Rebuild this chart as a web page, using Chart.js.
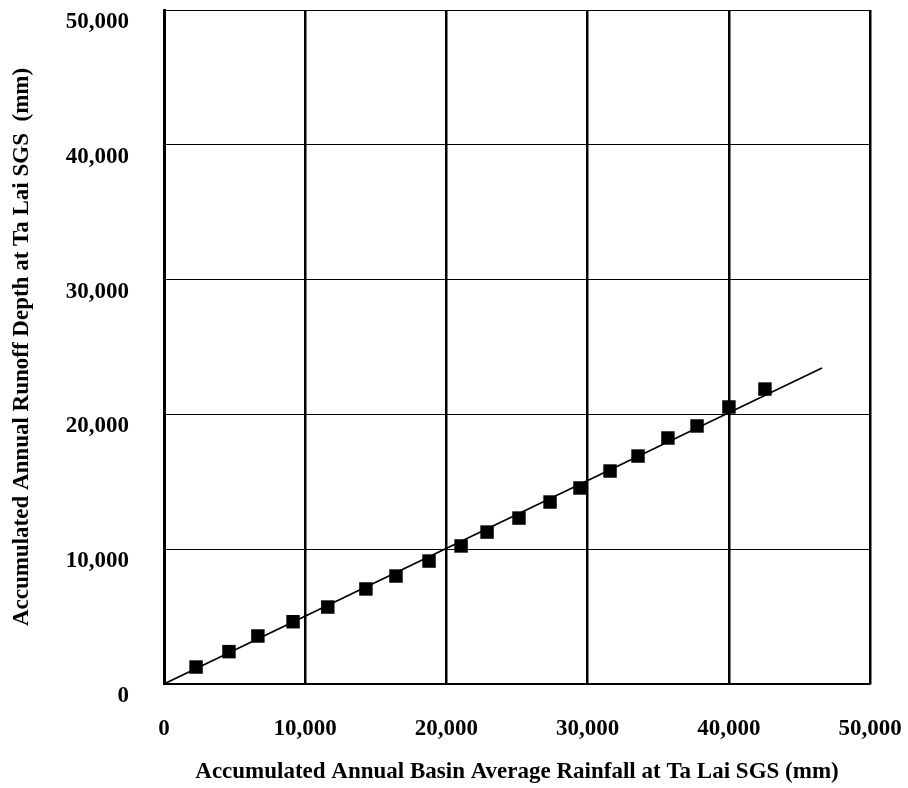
<!DOCTYPE html>
<html>
<head>
<meta charset="utf-8">
<script src="https://cdn.jsdelivr.net/npm/chart.js@4"></script>
<style>
  html, body { margin: 0; padding: 0; background: #fff; }
  #wrap { width: 908px; height: 788px; }
</style>
</head>
<body>
<div id="wrap"><canvas id="chart"></canvas></div>
<script>
// Accumulated rainfall (x) and runoff depth (y)
const rainfall = [2270, 4600, 6650, 9140, 11600, 14300, 16430, 18770, 21040, 22880,
                  25140, 27340, 29460, 31590, 33570, 35690, 37750, 40010, 42560];
const runoff = [1260, 2400, 3560, 4620, 5710, 7050, 8010, 9120, 10240, 11270,
                12310, 13500, 14540, 15800, 16910, 18250, 19140, 20550, 21880];
// fitted straight line (start / end)
const fitX = [0, 46600];
const fitY = [0, 23440];
const xTicks = [0, 10000, 20000, 30000, 40000, 50000];
const yTicks = [0, 10000, 20000, 30000, 40000, 50000];

const points = rainfall.map((x, i) => ({ x: x, y: runoff[i] }));
const fit = fitX.map((x, i) => ({ x: x, y: fitY[i] }));

const serif = 'Liberation Serif, "Times New Roman", serif';
const fmt = v => v.toLocaleString('en-US');

new Chart(document.getElementById('chart'), {
    type: 'scatter',
    data: {
        datasets: [{
            data: points,
            pointStyle: 'rect',
            pointRadius: 9.5,
            pointHoverRadius: 9.5,
            backgroundColor: '#000',
            borderColor: '#000',
            borderWidth: 0,
            showLine: false,
        }, {
            data: fit,
            showLine: true,
            borderColor: '#000',
            borderWidth: 1.6,
            pointRadius: 0,
            fill: false,
        }],
    },
    options: {
        responsive: true,
        maintainAspectRatio: false,
        animation: false,
        layout: { padding: { left: 8, right: 38, top: 10, bottom: 0 } },
        plugins: { legend: { display: false }, tooltip: { enabled: false } },
        scales: {
            x: {
                type: 'linear',
                min: 0,
                max: 50000,
                afterBuildTicks: s => { s.ticks = xTicks.map(v => ({ value: v })); },
                afterFit: s => {
                    s.height = 104;
                    s.paddingLeft = 0;
                    s.paddingRight = 0;
                },
                grid: { color: '#000', lineWidth: 2.5, drawTicks: false },
                border: { color: '#000', width: 1.5 },
                ticks: {
                    color: '#000',
                    padding: 31,
                    maxRotation: 0,
                    font: { family: serif, size: 23, weight: 'bold' },
                    callback: fmt,
                },
                title: {
                    display: true,
                    text: 'Accumulated Annual Basin Average Rainfall at Ta Lai SGS (mm)',
                    color: '#000',
                    font: { family: serif, size: 23, weight: 'bold' },
                    padding: { top: 0, bottom: 2 },
                },
            },
            y: {
                type: 'linear',
                min: 0,
                max: 50000,
                afterBuildTicks: s => { s.ticks = yTicks.map(v => ({ value: v })); },
                afterFit: s => {
                    s.width = 156;
                    s.paddingTop = 0;
                    s.paddingBottom = 0;
                },
                grid: { color: '#000', lineWidth: 1, drawTicks: false },
                border: { color: '#000', width: 3 },
                ticks: {
                    color: '#000',
                    padding: 35,
                    labelOffset: 12,
                    font: { family: serif, size: 23, weight: 'bold' },
                    callback: fmt,
                },
                title: {
                    display: true,
                    text: 'Accumulated Annual Runoff Depth at Ta Lai SGS  (mm)',
                    color: '#000',
                    font: { family: serif, size: 23, weight: 'bold' },
                    padding: { top: 0, bottom: 0 },
                },
            },
        },
    },
});
</script>
</body>
</html>
